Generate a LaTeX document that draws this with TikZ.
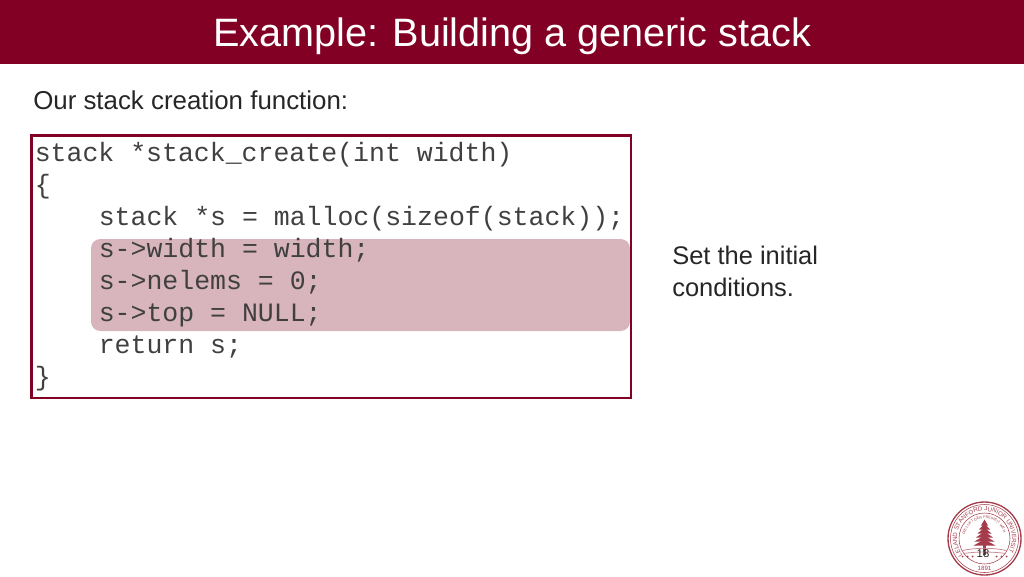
\documentclass[tikz,border=0pt]{standalone}
\usepackage{fontspec}
\usepackage{tikz}
\usetikzlibrary{decorations.text}
\setmainfont{Liberation Sans}
\setmonofont{Liberation Mono}
\definecolor{cardinal}{RGB}{130,0,35}
\definecolor{hilite}{RGB}{216,180,188}
\definecolor{sealred}{RGB}{165,60,75}
\tikzset{
  titletext/.style={text=white, font=\fontsize{29.7}{34}\selectfont, anchor=base},
  bodytext/.style={text=black!85, font=\fontsize{19.1}{24}\selectfont, anchor=base west, inner sep=0pt},
  codetext/.style={text=black!75, font=\ttfamily\fontsize{19.9}{24}\selectfont, anchor=base west, inner sep=0pt},
  sealline/.style={draw=sealred}
}
\begin{document}
\begin{tikzpicture}[x=.75pt, y=-.75pt]
  \useasboundingbox (0,0) rectangle (1024,576);

  % title bar
  \fill[cardinal] (0,0) rectangle (1024,64);
  \node[titletext] (title) at (512,46.5) {Example: Building a generic stack};

  \node[bodytext, font=\fontsize{19.4}{24}\selectfont] (intro) at (33,109) {Our stack creation function:};

  % highlight goes under the code
  \fill[hilite, rounded corners=7pt] (91,239) rectangle (630,331);
  \draw[cardinal, line width=2pt] (31.5,135.5) rectangle (631,398);

  \node[codetext] (line1) at (34.5,161) {stack *stack\_create(int width)};
  \node[codetext] (line2) at (34.5,193) {\{};
  \node[codetext] (line3) at (98.5,225) {stack *s = malloc(sizeof(stack));};
  \node[codetext] (line4) at (98.5,257) {s->width = width;};
  \node[codetext] (line5) at (98.5,289) {s->nelems = 0;};
  \node[codetext] (line6) at (98.5,321) {s->top = NULL;};
  \node[codetext] (line7) at (98.5,353) {return s;};
  \node[codetext] (line8) at (34.5,385) {\}};

  \node[bodytext] (note1) at (672,264) {Set the initial};
  \node[bodytext] (note2) at (672,296) {conditions.};

  % seal
  \begin{scope}[shift={(984.5,538.5)}]
    \draw[sealline, line width=1pt] (0,0) circle (36.5);
    \draw[sealline, line width=.4pt] (0,0) circle (34);
    \draw[sealline, line width=.4pt] (0,0) circle (25.5);
    \path[decorate, decoration={text along path, text align=center,
      text={|\fontsize{4.6}{5}\selectfont\color{sealred}|LELAND STANFORD JUNIOR UNIVERSITY}}]
      (150:27.5) arc (150:390:27.5);
    \path[decorate, decoration={text along path, text align=center,
      text={|\fontsize{2.8}{3}\selectfont\color{sealred}|DIE LUFT DER FREIHEIT WEHT}}]
      (195:20) arc (195:345:20);
    % tree
    \fill[sealred] (-1.2,16) rectangle (1.2,0);
    \foreach \w/\y in {11/7, 10/3, 8.5/-1, 7/-5, 5.5/-9, 3.5/-13}
      \fill[sealred] (-\w,\y) -- (0,\y-6) -- (\w,\y) -- cycle;
    \draw[sealred!60, line width=.6pt] (-22,12) .. controls (-8,9) and (8,9) .. (22,12);
    \draw[sealred!60, line width=.6pt] (-21,15) .. controls (-8,13) and (8,13) .. (21,15);
    \foreach \x in {-22,-17,-12,12,17,22}
      \fill[sealred] (\x,18) circle (1);
    \node[text=sealred, font=\fontsize{4.6}{5}\selectfont, inner sep=0pt] (sealyear) at (0,29.5) {1891};
    \node[text=black!85, font=\fontsize{8.5}{10}\selectfont, inner sep=0pt] (pagenum) at (-1.5,15.5) {18};
  \end{scope}
\end{tikzpicture}
\end{document}
